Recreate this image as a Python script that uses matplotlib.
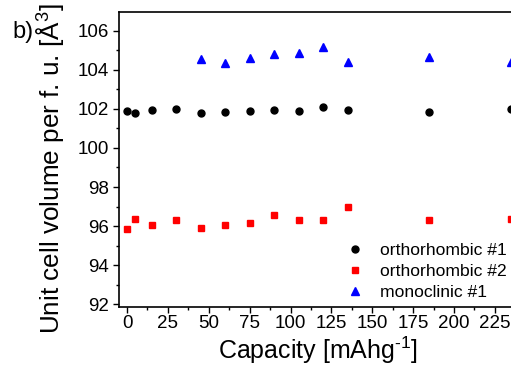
import matplotlib
matplotlib.use("Agg")
import matplotlib.pyplot as plt
from matplotlib.ticker import MultipleLocator

plt.rcParams['font.family'] = ['Liberation Sans', 'DejaVu Sans']
plt.rcParams['mathtext.fontset'] = 'custom'
plt.rcParams['mathtext.rm'] = 'Liberation Sans'

# capacity steps (mAh/g)
capacity = [0, 5, 15, 30, 45, 60, 75, 90, 105, 120, 135, 185, 235]
ortho1 = [101.91, 101.81, 101.95, 101.98, 101.78, 101.85, 101.91,
          101.95, 101.90, 102.12, 101.95, 101.85, 102.02]
ortho2 = [95.83, 96.38, 96.03, 96.32, 95.91, 96.05, 96.15,
          96.56, 96.31, 96.31, 96.99, 96.32, 96.36]

# monoclinic phase only appears from 45 mAh/g on
capacity_mono = [45, 60, 75, 90, 105, 120, 135, 185, 235]
mono1 = [104.55, 104.34, 104.60, 104.80, 104.89, 105.16, 104.41, 104.65, 104.41]

W, H = 511, 366
fig = plt.figure(figsize=(W / 100, H / 100), dpi=100)
# axes run past the right edge of the figure on purpose
ax = fig.add_axes([119 / W, 59 / H, 421 / W, 295 / H])

ax.plot(capacity, ortho1, 'o', color='black', markersize=5, label='orthorhombic #1')
ax.plot(capacity, ortho2, 's', color='#ff0000', markersize=4.5, label='orthorhombic #2')
ax.plot(capacity_mono, mono1, '^', color='#0000ff', markersize=5.5, label='monoclinic #1')

ax.set_xlim(-4.9, 252.6)
ax.set_ylim(91.85, 106.97)
ax.xaxis.set_major_locator(MultipleLocator(25))
ax.xaxis.set_minor_locator(MultipleLocator(12.5))
ax.yaxis.set_major_locator(MultipleLocator(2))
ax.yaxis.set_minor_locator(MultipleLocator(1))
ax.tick_params(which='major', direction='out', length=4, width=1, labelsize=13.5, pad=2)
ax.tick_params(which='minor', direction='out', length=2.5, width=1)
ax.tick_params(axis='y', pad=3)
for sp in ax.spines.values():
    sp.set_linewidth(1.2)

fig.text(318 / W, 1 - 350 / H, r'Capacity [mAhg$^{\text{-1}}$]',
         fontsize=18, ha='center', va='center')
fig.text(50 / W, 1 - 169 / H, r'Unit cell volume per f. u. [$\mathregular{\AA^{3}}$]',
         fontsize=18.8, rotation=90, ha='center', va='center')
fig.text(23 / W, 1 - 32 / H, 'b)', fontsize=17, ha='center', va='center')

ax.legend(loc='upper left', bbox_to_anchor=(346 / W, 1 - 243 / H),
          bbox_transform=fig.transFigure, frameon=False, fontsize=12.6,
          borderpad=0, borderaxespad=0, handlelength=1.0, handletextpad=0.93,
          labelspacing=0.33)

fig.savefig('out.png', dpi=100)
